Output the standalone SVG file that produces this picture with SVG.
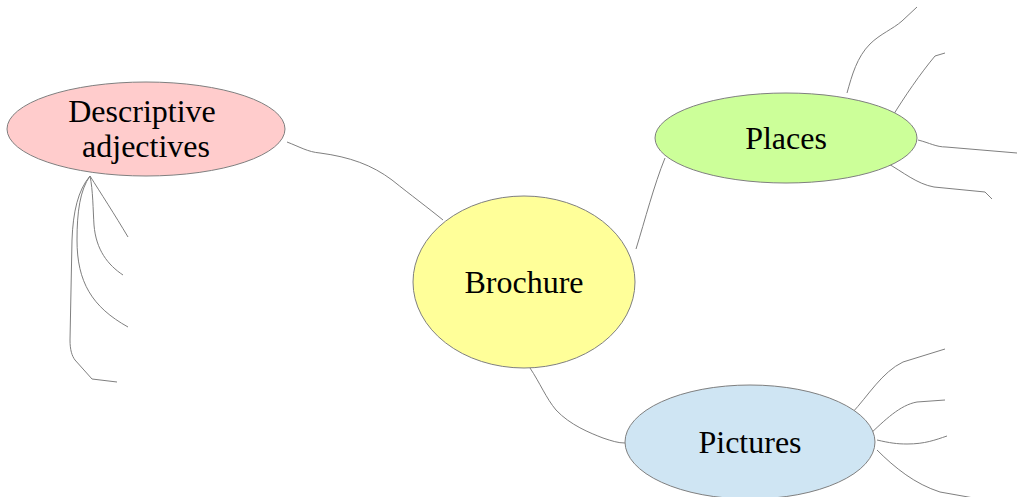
<svg xmlns="http://www.w3.org/2000/svg" width="1017" height="497" viewBox="0 0 1017 497">
  <style>
    .node { stroke: #7f7f7f; stroke-width: 1; }
    .label { font-family: "Liberation Serif", "Times New Roman", serif; font-size: 32px; fill: #000; text-anchor: middle; }
    .link { fill: none; stroke: #7f7f7f; stroke-width: 1; }
  </style>
  <rect width="1017" height="497" fill="#ffffff"/>

  <!-- connectors -->
  <g id="connectors">
    <!-- central topic to main branches -->
    <path class="link" d="M287,142 C300,147 308,152 320,153 C350,157 372,165 392,180 C412,196 427,207 443,220"/>
    <path class="link" d="M636,249 C645,220 654,185 665,158"/>
    <path class="link" d="M530,368 C540,383 546,398 556,410 C570,425 590,433 603,438 C612,441 618,443 625,443"/>

    <!-- Places sub-branches -->
    <path class="link" d="M847,93 C852,75 857,57 870,44 C880,34 893,29 902,21 L917,7"/>
    <path class="link" d="M892,117 C905,96 920,74 935,56 L945,53"/>
    <path class="link" d="M918,140 C930,143 936,147 946,147 L1017,153"/>
    <path class="link" d="M887,163 C903,172 917,184 934,187 L985,192 L992,199"/>

    <!-- Pictures sub-branches -->
    <path class="link" d="M852,413 C868,396 882,372 903,362 L945,349"/>
    <path class="link" d="M869,435 C885,420 900,405 917,402 L945,400"/>
    <path class="link" d="M877,440 C890,443 897,444 907,444 C925,444 935,440 947,436"/>
    <path class="link" d="M877,450 C895,468 915,484 940,492 L985,500"/>

    <!-- Descriptive adjectives sub-branches -->
    <path class="link" d="M90,176 C100,192 115,215 128,237"/>
    <path class="link" d="M90,176 C93,190 93,210 94,225 C96,250 108,265 123,275"/>
    <path class="link" d="M90,176 C80,190 77,212 77,240 C77,282 92,307 128,327"/>
    <path class="link" d="M90,176 C78,190 73,212 72,240 L70,340 C70,350 72,356 75,360 L92,379 L117,382"/>
  </g>

  <g id="node-descriptive">
    <ellipse class="node" cx="146" cy="129" rx="139" ry="47" fill="#ffcccc"/>
    <text class="label" x="142" y="122">Descriptive</text>
    <text class="label" x="146" y="157">adjectives</text>
  </g>

  <g id="node-brochure">
    <ellipse class="node" cx="524" cy="282" rx="111" ry="86" fill="#ffff99"/>
    <text class="label" x="524" y="293">Brochure</text>
  </g>

  <g id="node-places">
    <ellipse class="node" cx="786" cy="138" rx="131" ry="45" fill="#ccff99"/>
    <text class="label" x="786" y="149">Places</text>
  </g>

  <g id="node-pictures">
    <ellipse class="node" cx="750" cy="442" rx="125" ry="57" fill="#cfe5f3"/>
    <text class="label" x="750" y="453">Pictures</text>
  </g>
</svg>
